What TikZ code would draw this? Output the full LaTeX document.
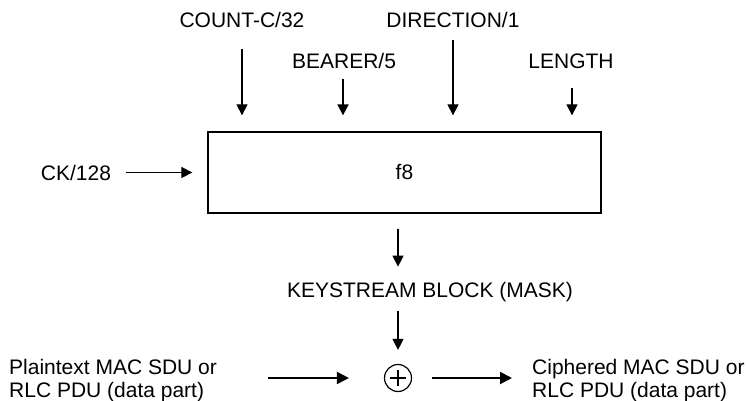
\documentclass[tikz,border=0pt]{standalone}
\usepackage{fontspec}
\setmainfont{Liberation Sans}
\usetikzlibrary{positioning}
\usetikzlibrary{calc}
\usetikzlibrary{arrows.meta}

\begin{document}
\begin{tikzpicture}[x=1pt,y=-1pt,
	lbl/.style={inner sep=0pt,font=\fontsize{21}{23}\selectfont},
	thinarrow/.style={line width=1.2pt,-{Triangle[width=11pt,length=11pt]}},
	thickarrow/.style={line width=2pt,-{Triangle[width=12pt,length=12pt]}}]
	\useasboundingbox (0,0) rectangle (749,401);
	% block and labels
	\node[draw,line width=1.3pt,minimum width=393pt,minimum height=81pt,lbl] (f8) at (404.5,172.5) {f8};
	\node[lbl,anchor=base] (count) at (242,28) {COUNT-C/32};
	\node[lbl,anchor=base] (direction) at (453,28) {DIRECTION/1};
	\node[lbl,anchor=base] (bearer) at (344,69) {BEARER/5};
	\node[lbl,anchor=base] (length) at (571,69) {LENGTH};
	\node[lbl,anchor=base] (ck) at (76,180) {CK/128};
	\node[lbl,anchor=base] (mask) at (430,297) {KEYSTREAM BLOCK (MASK)};
	\node[lbl,anchor=base west,align=left] (plain) at (9,397) {Plaintext MAC SDU or\\RLC PDU (data part)};
	\node[lbl,anchor=base west,align=left] (ciph) at (532,397) {Ciphered MAC SDU or\\RLC PDU (data part)};
	\node[draw,circle,line width=1.2pt,minimum size=27pt,inner sep=0pt] (xor) at (398,378) {};
	\draw[line width=1.4pt] ($(xor.center)+(-8,0)$)--($(xor.center)+(8,0)$);
	\draw[line width=1.4pt] ($(xor.center)+(0,-8)$)--($(xor.center)+(0,8)$);
	% arrows into f8
	\coordinate (countTail) at (242,49);
	\coordinate (bearerTail) at (343,79);
	\coordinate (directionTail) at (453,40);
	\coordinate (lengthTail) at (572,88);
	\draw[thinarrow,shorten >=16pt] (countTail)--(countTail |- f8.north);
	\draw[thinarrow,line width=1.8pt,shorten >=16pt] (bearerTail)--(bearerTail |- f8.north);
	\draw[thinarrow,shorten >=16pt] (directionTail)--(directionTail |- f8.north);
	\draw[thinarrow,shorten >=16pt] (lengthTail)--(lengthTail |- f8.north);
	\draw[thinarrow,shorten <=15pt,shorten >=15pt] (ck.east |- f8.west)--(f8.west);
	% keystream and xor
	\draw[thinarrow,shorten <=15pt] (f8.south -| xor)--($(f8.south -| xor)+(0,53)$);
	\draw[thinarrow,shorten >=14pt] ($(xor.north)+(0,-53)$)--(xor.north);
	\draw[thickarrow,shorten <=51pt,shorten >=35pt] (plain.east |- xor)--(xor.west);
	\draw[thickarrow,shorten <=20pt,shorten >=20pt] (xor.east)--(ciph.west |- xor);
\end{tikzpicture}
\end{document}
